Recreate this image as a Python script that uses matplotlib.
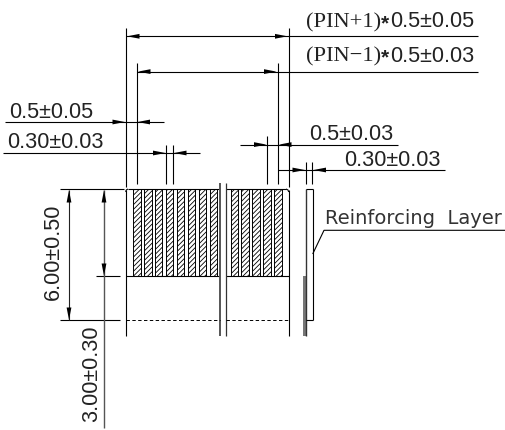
import matplotlib
matplotlib.use("Agg")
from matplotlib import pyplot as plt

# everything is measured in pixels of the 506x430 drawing
pins_left = [133.3, 144.3, 155.2, 166.1, 177.1, 188.0, 198.9, 209.8]
pins_right = [230.7, 241.5, 252.4, 263.3, 274.3]
pin_width = 7.3
pin_top = 189
pin_bottom = 276.3
flat_end = 320.3

# x, top, bottom
vertical_lines = [
    (125.7, 28, 187),
    (125.7, 190, 336),
    (136.7, 63, 184),
    (288.7, 28, 187),
    (288.7, 190, 336),
    (277.7, 63, 184),
    (166.2, 145, 184),
    (172.8, 145, 184),
    (267.0, 136, 184),
    (305.8, 162, 184),
    (312.4, 162, 184),
]
# y, left, right
horizontal_lines = [
    (36.3, 126, 478),
    (71.6, 137, 478),
    (122.0, 5, 164),
    (153.0, 3.5, 200),
    (144.6, 240, 398),
    (170.0, 278, 445),
    (189.0, 60, 124),
    (189.0, 128, 220),
    (189.0, 226, 286),
    (276.3, 96, 120),
    (276.3, 125.7, 220),
    (276.3, 225.7, 288.7),
    (320.3, 60, 120),
]
# tip x, tip y, direction x, direction y
arrows = [
    (127, 36.3, 1, 0), (287.5, 36.3, -1, 0),
    (138, 71.6, 1, 0), (276.5, 71.6, -1, 0),
    (125, 122, -1, 0), (137.5, 122, 1, 0),
    (165.5, 153, -1, 0), (174, 153, 1, 0),
    (266.5, 144.6, -1, 0), (279, 144.6, 1, 0),
    (305, 170, -1, 0), (313.5, 170, 1, 0),
    (69, 190, 0, 1), (69, 320, 0, -1),
    (104, 190, 0, 1), (104, 276, 0, -1),
]
# text, x, y
dim_labels = [
    ("0.5\u00b10.05", 9.5, 117.5),
    ("0.30\u00b10.03", 7.5, 148),
    ("0.5\u00b10.03", 309.5, 140),
    ("0.30\u00b10.03", 344, 165.5),
]

plt.rcParams["font.family"] = ["Liberation Sans", "DejaVu Sans"]
plt.rcParams["hatch.linewidth"] = 0.6
fig = plt.figure(figsize=(5.06, 4.30), dpi=100)
ax = fig.add_axes([0, 0, 1, 1])
ax.set_xlim(0, 506)
ax.set_ylim(430, 0)
ax.axis("off")

LW = 0.8
FS = 15.6


def line(x, y, color="black", lw=LW, **kw):
    ax.plot(x, y, color=color, lw=lw, solid_capstyle="butt", **kw)


def arrow(tx, ty, dx, dy, length=12.5, half=2.4):
    # px, py is the normal of the arrow direction
    px, py = -dy, dx
    ax.fill([tx, tx + dx * length + px * half, tx + dx * length - px * half],
            [ty, ty + dy * length + py * half, ty + dy * length - py * half],
            color="black", lw=0, zorder=5)


for x, top, bottom in vertical_lines:
    line([x, x], [top, bottom])
for y, left, right in horizontal_lines:
    line([left, right], [y, y])
for a in arrows:
    arrow(*a)

# dimension verticals on the left
line([69, 69], [190, 320], color="#222222")
line([104, 104], [190, 428], color="#555555", lw=1.0)

# pins
ax.bar(pins_left + pins_right, pin_bottom - pin_top, bottom=pin_top, width=pin_width,
       align="edge", facecolor="white", edgecolor="black", hatch="/" * 7, lw=0.7)

# rounded corners of the tail
line([125.7, 126.2, 128], [192, 190, 189])
line([286, 288, 288.7], [189, 190, 192])

# break lines
line([220, 220], [183, 336], color="#555555", lw=1.4)
line([225.8, 225.8], [183, 336], color="#333333", lw=0.9)

# dashed end of the flat cable
line([125.7, 220], [320.3, 320.3], lw=0.7, ls=(0, (3.5, 2.5)))
line([226, 288.7], [320.3, 320.3], lw=0.7, ls=(0, (3.5, 2.5)))

# side view with the reinforcing layer
line([306, 306], [189, 336], lw=1.0, color="#333333")
line([312.7, 312.7], [189, 320.3])
line([306, 312.7], [189, 189])
line([306, 312.7], [320.3, 320.3])
ax.fill_between([303.4, 306.5], 276, 336, color="#777777", lw=0)
line([312.7, 324, 506], [254, 230.3, 230.3])

# labels
for txt, x, y in dim_labels:
    ax.text(x, y, txt, fontsize=FS, color="#222222", ha="left", va="baseline")
ax.text(63.5, 252, "6.00\u00b10.50", fontsize=FS, color="#222222", rotation=90,
        ha="right", va="center")
ax.text(102, 373.5, "3.00\u00b10.30", fontsize=FS, color="#222222", rotation=90,
        ha="right", va="center")

ax.text(306, 27, "(PIN+1)", family="Liberation Serif", fontsize=16.2, color="#222222", va="baseline")
ax.text(381, 29, "*", fontsize=15, fontweight="bold", color="#222222", va="baseline")
ax.text(390.5, 27, "0.5\u00b10.05", fontsize=FS, color="#222222", va="baseline")
ax.text(306, 61.7, "(PIN\u22121)", family="Liberation Serif", fontsize=16.2, color="#222222", va="baseline")
ax.text(381, 63.7, "*", fontsize=15, fontweight="bold", color="#222222", va="baseline")
ax.text(390.5, 61.7, "0.5\u00b10.03", fontsize=FS, color="#222222", va="baseline")

ax.text(325, 224.5, "Reinforcing  Layer", family="DejaVu Sans", fontsize=14,
        color="#333333", va="baseline")

fig.savefig("out.png", dpi=100)
